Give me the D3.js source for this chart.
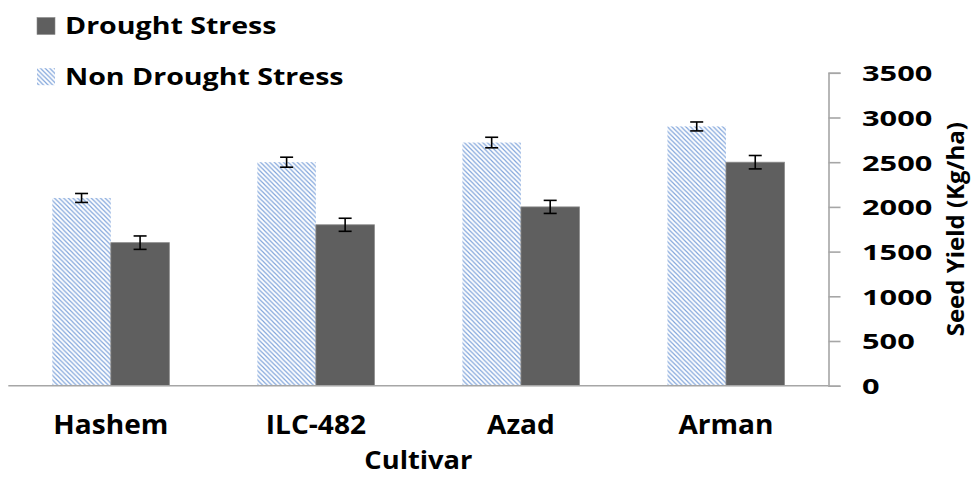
<!DOCTYPE html>
<html>
<head>
<meta charset="utf-8">
<script src="https://cdn.jsdelivr.net/npm/d3@7"></script>
<style>
  html, body { margin: 0; padding: 0; background: #fff; }
  svg { display: block; }
  text { font-family: "Open Sans", sans-serif; font-weight: 700; fill: #000; }
</style>
</head>
<body>
<svg id="chart" width="975" height="478"></svg>
<script>
// ---- data ----
const cultivars = ["Hashem", "ILC-482", "Azad", "Arman"];
const seriesNames = ["Non Drought Stress", "Drought Stress"];
const nonDrought = [2100, 2500, 2720, 2900];
const nonDroughtErr = [50, 56, 59, 50];
const drought = [1600, 1800, 2000, 2500];
const droughtErr = [75, 73, 73, 75];
const yTicks = [0, 500, 1000, 1500, 2000, 2500, 3000, 3500];
const xTitle = "Cultivar";
const yTitle = "Seed Yield (Kg/ha)";

// ---- layout ----
const W = 975, H = 478;
const plot = { left: 8.3, right: 828.5, top: 72.8, bottom: 385.7 };
const svg = d3.select("#chart");

const defs = svg.append("defs");
const pat = defs.append("pattern")
  .attr("id", "hatch").attr("patternUnits", "userSpaceOnUse")
  .attr("width", 4.6).attr("height", 4.6);
pat.append("path")
  .attr("d", "M-1,-1 L5.6,5.6 M-1,3.6 L1,5.6 M3.6,-1 L5.6,1")
  .attr("stroke", "#7ea3da").attr("stroke-width", 1.15).attr("fill", "none");

const x0 = d3.scaleBand().domain(cultivars).range([plot.left, plot.right]).padding(0);
const x1 = d3.scaleBand().domain(seriesNames).range([0, x0.bandwidth()])
  .paddingInner(0).paddingOuter(0.752);
const y = d3.scaleLinear().domain([0, 3500]).range([plot.bottom, plot.top]);

const rows = cultivars.map((c, i) => ({
  c,
  vals: [
    { s: seriesNames[0], v: nonDrought[i], e: nonDroughtErr[i] },
    { s: seriesNames[1], v: drought[i], e: droughtErr[i] }
  ]
}));

const g = svg.append("g");
const groups = g.selectAll("g.grp").data(rows).join("g")
  .attr("transform", d => `translate(${x0(d.c)},0)`);

groups.selectAll("rect").data(d => d.vals).join("rect")
  .attr("x", d => x1(d.s))
  .attr("width", x1.bandwidth())
  .attr("y", d => y(d.v))
  .attr("height", d => y(0) - y(d.v))
  .attr("fill", d => d.s === seriesNames[0] ? "url(#hatch)" : "#5f5f5f")
  .attr("stroke", d => d.s === seriesNames[0] ? "none" : "#8a8a8a")
  .attr("stroke-width", 0.8);

// error bars
const capW = 6.5;
const eb = groups.selectAll("g.eb").data(d => d.vals).join("g")
  .attr("stroke", "#000").attr("stroke-width", 1.6);
eb.append("line")
  .attr("x1", d => x1(d.s) + x1.bandwidth() / 2).attr("x2", d => x1(d.s) + x1.bandwidth() / 2)
  .attr("y1", d => y(d.v + d.e)).attr("y2", d => y(d.v - d.e));
eb.append("line")
  .attr("x1", d => x1(d.s) + x1.bandwidth() / 2 - capW).attr("x2", d => x1(d.s) + x1.bandwidth() / 2 + capW)
  .attr("y1", d => y(d.v + d.e)).attr("y2", d => y(d.v + d.e));
eb.append("line")
  .attr("x1", d => x1(d.s) + x1.bandwidth() / 2 - capW).attr("x2", d => x1(d.s) + x1.bandwidth() / 2 + capW)
  .attr("y1", d => y(d.v - d.e)).attr("y2", d => y(d.v - d.e));

// baseline (category axis)
svg.append("line")
  .attr("x1", plot.left).attr("x2", plot.right)
  .attr("y1", y(0)).attr("y2", y(0))
  .attr("stroke", "#a6a6a6").attr("stroke-width", 1.6);

// right value axis
const yAxis = d3.axisRight(y).tickValues(yTicks).tickSize(12).tickPadding(0).tickFormat(d3.format("d"));
const ya = svg.append("g").attr("transform", `translate(${plot.right},0)`).call(yAxis);
ya.select(".domain").attr("stroke", "#a6a6a6").attr("stroke-width", 1.6);
ya.selectAll(".tick line").attr("stroke", "#a6a6a6").attr("stroke-width", 1.6);
ya.selectAll(".tick text")
  .attr("x", 0).attr("dy", null)
  .attr("dominant-baseline", "central")
  .attr("text-anchor", "start")
  .style("font-size", "20.5px")
  .attr("transform", "translate(33.5,0) scale(1.5,1)");

// category labels
const xAxis = d3.axisBottom(x0).tickSize(0).tickPadding(0);
const xa = svg.append("g").attr("transform", `translate(0,${plot.bottom})`).call(xAxis);
xa.select(".domain").remove();
xa.selectAll(".tick text")
  .attr("y", 0).attr("dy", null)
  .style("font-size", "27px")
  .attr("transform", "translate(0,48.6) scale(1.04,1)");

// axis titles
svg.append("text")
  .attr("text-anchor", "middle")
  .style("font-size", "25.5px")
  .attr("transform", `translate(${(plot.left + plot.right) / 2},469) scale(1.07,1)`)
  .text(xTitle);

svg.append("text")
  .attr("text-anchor", "middle")
  .style("font-size", "24px")
  .attr("transform", `translate(964,${(plot.top + plot.bottom) / 2}) rotate(-90)`)
  .text(yTitle);

// legend
const legendItems = [seriesNames[1], seriesNames[0]];
const lg = svg.append("g");
const li = lg.selectAll("g").data(legendItems).join("g")
  .attr("transform", (d, i) => `translate(0,${i * 50.7})`);
li.append("rect")
  .attr("x", 37).attr("y", 17.5).attr("width", 18).attr("height", 17)
  .attr("fill", d => d === seriesNames[0] ? "url(#hatch)" : "#5f5f5f")
  .attr("stroke", d => d === seriesNames[0] ? "none" : "#8a8a8a")
  .attr("stroke-width", 0.6);
li.append("text")
  .style("font-size", "24px")
  .attr("transform", "translate(65,34.3) scale(1.19,1)")
  .text(d => d);
</script>
</body>
</html>
